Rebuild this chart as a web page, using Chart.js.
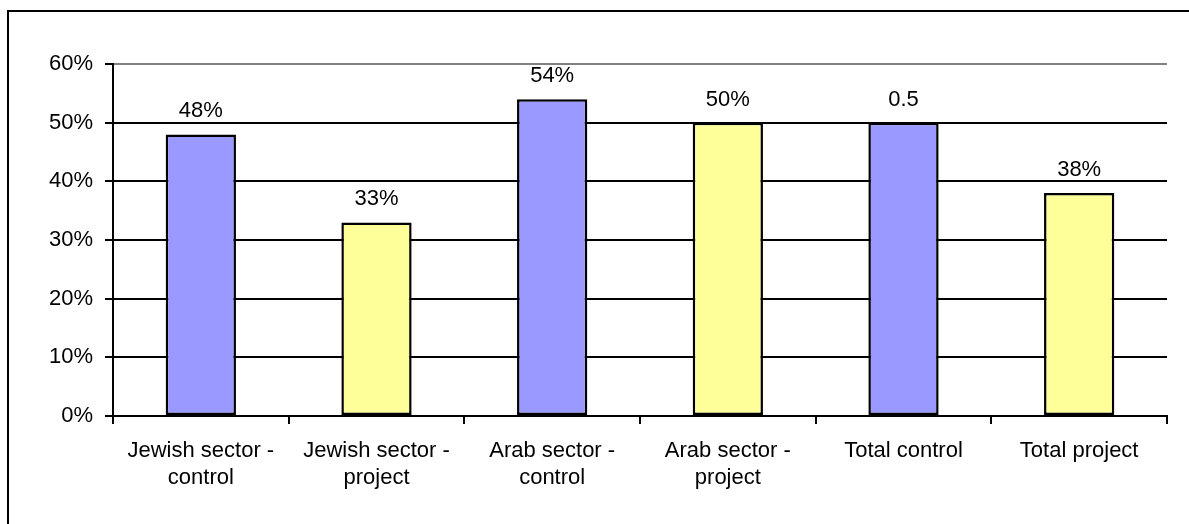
<!DOCTYPE html>
<html>
<head>
<meta charset="utf-8">
<title>Sector comparison</title>
<script src="https://cdn.jsdelivr.net/npm/chart.js@4/dist/chart.umd.min.js"></script>
<style>
  html, body { margin: 0; padding: 0; background: #fff; }
  #wrap { width: 1189px; height: 524px; position: relative; }
</style>
</head>
<body>
<div id="wrap"><canvas id="chart1"></canvas></div>
<script>
// chart values
const categories = [
    ['Jewish sector -', 'control'],
    ['Jewish sector -', 'project'],
    ['Arab sector -', 'control'],
    ['Arab sector -', 'project'],
    'Total control',
    'Total project'
];
const values = [0.48, 0.33, 0.54, 0.50, 0.50, 0.38];
const valueLabels = ['48%', '33%', '54%', '50%', '0.5', '38%'];
const yTickLabels = ['0%', '10%', '20%', '30%', '40%', '50%', '60%'];

const barColors = ['#9999FF', '#FFFF99', '#9999FF', '#FFFF99', '#9999FF', '#FFFF99'];
const fontFamily = "'Liberation Sans', Arial, sans-serif";

// frame around the whole chart (only left and top edges are in view)
const framePlugin = {
    id: 'frame',
    beforeDraw(chart) {
        const ctx = chart.ctx;
        ctx.save();
        ctx.fillStyle = '#fff';
        ctx.fillRect(0, 0, chart.width, chart.height);
        ctx.strokeStyle = '#000';
        ctx.lineWidth = 2;
        ctx.beginPath();
        ctx.moveTo(8, chart.height);
        ctx.lineTo(8, 11);
        ctx.lineTo(chart.width, 11);
        ctx.stroke();
        ctx.restore();
    }
};

// value labels above each bar
const valueLabelPlugin = {
    id: 'valueLabels',
    afterDatasetsDraw(chart) {
        const ctx = chart.ctx;
        const meta = chart.getDatasetMeta(0);
        ctx.save();
        ctx.font = '22px ' + fontFamily;
        ctx.fillStyle = '#000';
        ctx.textAlign = 'center';
        ctx.textBaseline = 'alphabetic';
        meta.data.forEach((bar, i) => {
            ctx.fillText(valueLabels[i], bar.x, bar.y - 17);
        });
        ctx.restore();
    }
};

new Chart(document.getElementById('chart1'), {
    type: 'bar',
    data: {
        labels: categories,
        datasets: [{
            data: values,
            backgroundColor: barColors,
            borderColor: '#000',
            borderWidth: 2.5,
            borderSkipped: false,
            barPercentage: 0.4,
            categoryPercentage: 1.0
        }]
    },
    options: {
        responsive: true,
        maintainAspectRatio: false,
        animation: false,
        layout: { padding: { top: 64, right: 22, left: 0, bottom: 0 } },
        plugins: {
            legend: { display: false },
            tooltip: { enabled: false }
        },
        scales: {
            x: {
                afterFit: scale => { scale.height = 108; },
                border: { display: true, color: '#000', width: 2 },
                grid: {
                    offset: true,
                    lineWidth: 2,
                    color: ctx => ctx.index === categories.length ? '#808080' : 'rgba(0,0,0,0)',
                    tickColor: '#000',
                    tickLength: 8
                },
                ticks: {
                    color: '#000',
                    padding: 14,
                    maxRotation: 0,
                    autoSkip: false,
                    font: { family: fontFamily, size: 22, lineHeight: 1.22 }
                }
            },
            y: {
                min: 0,
                max: 0.6,
                afterFit: scale => { scale.width = 113; },
                border: { display: true, color: '#000', width: 2 },
                grid: {
                    lineWidth: 2,
                    color: ctx => (ctx.tick && Math.abs(ctx.tick.value - 0.6) < 1e-6) ? '#808080' : '#000',
                    tickColor: '#000',
                    tickLength: 8
                },
                ticks: {
                    stepSize: 0.1,
                    color: '#000',
                    padding: 12,
                    font: { family: fontFamily, size: 22 },
                    callback: (value, index) => yTickLabels[index]
                }
            }
        }
    },
    plugins: [framePlugin, valueLabelPlugin]
});
</script>
</body>
</html>
